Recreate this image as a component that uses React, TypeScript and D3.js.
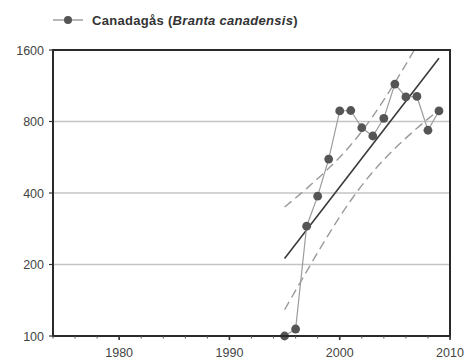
import { useMemo } from 'react';
import * as d3 from 'd3';

// Canadagås counts
const years = [1995, 1996, 1997, 1998, 1999, 2000, 2001, 2002, 2003, 2004, 2005, 2006, 2007, 2008, 2009];
const counts = [100, 107, 290, 388, 556, 886, 890, 753, 695, 825, 1150, 1015, 1020, 735, 886];

// fitted trend (straight on log axis) and its confidence band
const trendYears = [1995, 2009];
const trendValues = [212, 1476];
const bandYears = [1995, 1997, 1999, 2001, 2003, 2005, 2007, 2009];
const bandUpper = [349, 418, 508, 637, 841, 1167, 1671, 2432];
const bandLower = [129, 187, 268, 372, 491, 616, 749, 896];

const yTicks = [100, 200, 400, 800, 1600];
const xMajorTicks = [1980, 1990, 2000, 2010];

export default function App() {
    const width = 465;
    const height = 361;
    const marginLeft = 53;
    const marginRight = 15;
    const marginTop = 50;
    const marginBottom = 25;

    const { x, y } = useMemo(() => {
        const x = d3.scaleLinear().domain([1974, 2010]).range([marginLeft, width - marginRight]);
        const y = d3.scaleLog().base(2).domain([100, 1600]).range([height - marginBottom, marginTop]);
        return { x, y };
    }, []);

    const dataLine = d3.line<number>()
        .x((_, i) => x(years[i]))
        .y((d) => y(d));
    const bandLine = (vals: number[]) => d3.line<number>()
        .x((_, i) => x(bandYears[i]))
        .y((d) => y(d))
        .curve(d3.curveMonotoneX)(vals) || '';
    const trendPath = d3.line<number>()
        .x((_, i) => x(trendYears[i]))
        .y((d) => y(d))(trendValues) || '';

    const minorTicks = d3.range(1974, 2011, 2);
    const font = '"Liberation Sans", Arial, sans-serif';
    const x0 = x.range()[0];
    const x1 = x.range()[1];
    const yBottom = y.range()[0];
    const yTop = y.range()[1];

    return (
        <svg width={width} height={height} style={{ position: 'absolute', left: 0, top: 0, background: 'white' }}>
            <defs>
                <clipPath id="plot">
                    <rect x={x0} y={yTop} width={x1 - x0} height={yBottom - yTop} />
                </clipPath>
            </defs>

            {/* legend */}
            <g>
                <line x1={53} x2={83} y1={20} y2={20} stroke="#888" strokeWidth={1.2} />
                <circle cx={68} cy={20} r={4} fill="#555" />
                <text x={92} y={24.5} fontFamily={font} fontSize={13} letterSpacing={0.3} fontWeight="bold" fill="#333">
                    Canadagås (<tspan fontStyle="italic">Branta canadensis</tspan>)
                </text>
            </g>

            {/* grid */}
            {yTicks.slice(1, -1).map((t) => (
                <line key={t} x1={x0} x2={x1} y1={y(t)} y2={y(t)} stroke="#c4c4c4" strokeWidth={1.6} />
            ))}

            <g clipPath="url(#plot)">
                <path d={bandLine(bandUpper)} fill="none" stroke="#9a9a9a" strokeWidth={1.4} strokeDasharray="9 5" />
                <path d={bandLine(bandLower)} fill="none" stroke="#9a9a9a" strokeWidth={1.4} strokeDasharray="9 5" />
                <path d={trendPath} fill="none" stroke="#3a3a3a" strokeWidth={1.6} />
                <path d={dataLine(counts) || ''} fill="none" stroke="#9c9c9c" strokeWidth={1.2} />
            </g>
            {counts.map((c, i) => (
                <circle key={years[i]} cx={x(years[i])} cy={y(c)} r={4.4} fill="#555" />
            ))}

            {/* frame */}
            <rect x={x0} y={yTop} width={x1 - x0} height={yBottom - yTop} fill="none" stroke="#2a2a2a" strokeWidth={2} />

            {/* y axis */}
            {yTicks.map((t) => (
                <g key={t}>
                    <line x1={x0 - 4} x2={x0} y1={y(t)} y2={y(t)} stroke="#333" strokeWidth={1.2} />
                    <text x={x0 - 9} y={y(t) + 4.5} textAnchor="end" fontFamily={font} fontSize={12.5} fill="#444">{t}</text>
                </g>
            ))}

            {/* x axis */}
            {minorTicks.map((t) => (
                <line key={t} x1={x(t)} x2={x(t)} y1={yBottom} y2={yBottom + 2.5} stroke="#555" strokeWidth={1} />
            ))}
            {xMajorTicks.map((t) => (
                <g key={t}>
                    <line x1={x(t)} x2={x(t)} y1={yBottom} y2={yBottom + 4} stroke="#333" strokeWidth={1.6} />
                    <text x={x(t)} y={yBottom + 21} textAnchor="middle" fontFamily={font} fontSize={12.5} fill="#444">{t}</text>
                </g>
            ))}
        </svg>
    );
}
